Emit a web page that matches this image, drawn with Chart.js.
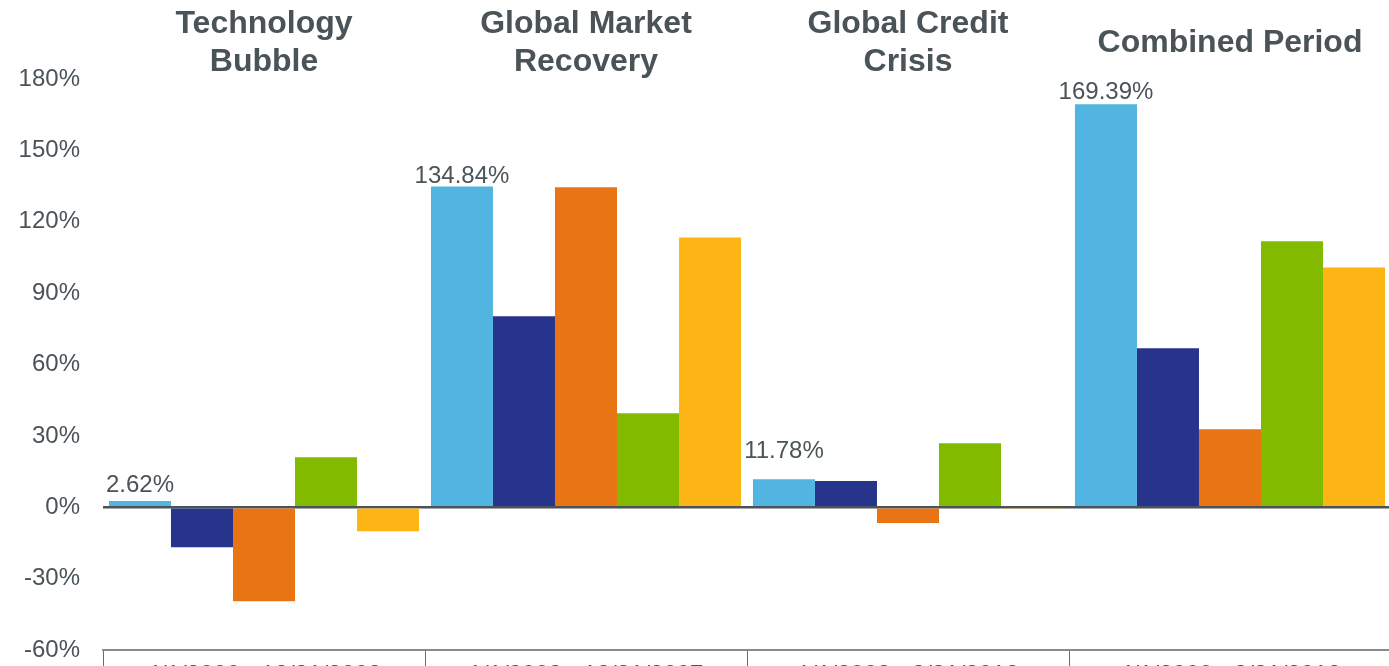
<!DOCTYPE html>
<html>
<head>
<meta charset="utf-8">
<script src="https://cdn.jsdelivr.net/npm/chart.js@4/dist/chart.umd.min.js"></script>
<style>
  html, body { margin: 0; padding: 0; background: #fff; overflow: hidden; }
  #wrap { position: absolute; left: 0; top: 0; width: 1391px; height: 700px; }
</style>
</head>
<body>
<div id="wrap"><canvas id="grafico"></canvas></div>
<script>
// data
const categorias = ["4/1/2000 - 12/31/2002", "1/1/2003 - 12/31/2007", "1/1/2008 - 3/31/2012", "4/1/2000 - 3/31/2012"];
const titulos = [["Technology", "Bubble"], ["Global Market", "Recovery"], ["Global Credit", "Crisis"], ["Combined Period"]];

const serie1 = [2.62, 134.84, 11.78, 169.39];
const serie2 = [-16.8, 80.3, 11.0, 66.8];
const serie3 = [-39.5, 134.5, -6.6, 32.8];
const serie4 = [21.0, 39.5, 26.9, 111.8];
const serie5 = [-10.1, 113.4, -0.4, 100.8];

const yMin = -60;
const yMax = 180;
const yPaso = 30;

// extra gap above the labelled bars (px)
const desfaseEtiqueta = [9, 3, 21, 5];

const colores = ["#52b4e0", "#27348b", "#e87413", "#82ba00", "#fdb515"];
const gris = "#4a5357";
const fuente = "'Liberation Sans', Arial, sans-serif";

// titles over each group
const pluginTitulos = {
  id: "titulos",
  afterDraw(chart) {
    const ctx = chart.ctx;
    const x = chart.scales.x;
    ctx.save();
    ctx.fillStyle = gris;
    ctx.font = "bold 32px " + fuente;
    ctx.textAlign = "center";
    ctx.textBaseline = "middle";
    titulos.forEach((lineas, i) => {
      const cx = x.getPixelForValue(i);
      const alto = 38;
      const y0 = 43 - (lineas.length - 1) * alto / 2;
      lineas.forEach((t, j) => ctx.fillText(t, cx, y0 + j * alto));
    });
    ctx.restore();
  }
};

// value labels on the first series
const pluginEtiquetas = {
  id: "etiquetas",
  afterDatasetsDraw(chart) {
    const ctx = chart.ctx;
    const meta = chart.getDatasetMeta(0);
    ctx.save();
    ctx.fillStyle = gris;
    ctx.font = "24px " + fuente;
    ctx.textAlign = "center";
    ctx.textBaseline = "alphabetic";
    meta.data.forEach((barra, i) => {
      const v = serie1[i];
      ctx.fillText(v.toFixed(2) + "%", barra.x, barra.y - desfaseEtiqueta[i]);
    });
    ctx.restore();
  }
};

const ctx = document.getElementById("grafico").getContext("2d");

new Chart(ctx, {
  type: "bar",
  data: {
    labels: categorias,
    datasets: [
      { label: "Serie 1", data: serie1, backgroundColor: colores[0] },
      { label: "Serie 2", data: serie2, backgroundColor: colores[1] },
      { label: "Serie 3", data: serie3, backgroundColor: colores[2] },
      { label: "Serie 4", data: serie4, backgroundColor: colores[3] },
      { label: "Serie 5", data: serie5, backgroundColor: colores[4] }
    ]
  },
  options: {
    responsive: true,
    maintainAspectRatio: false,
    animation: false,
    layout: { padding: { top: 79, left: 0, right: 0, bottom: 0 } },
    datasets: {
      bar: { categoryPercentage: 0.963, barPercentage: 1, borderWidth: 0 }
    },
    plugins: {
      legend: { display: false },
      tooltip: { enabled: false }
    },
    scales: {
      x: {
        afterFit: (s) => { s.height = 50; },
        border: { display: true, color: "#858b8e", width: 2 },
        grid: {
          offset: true,
          drawOnChartArea: false,
          drawTicks: true,
          tickLength: 40,
          color: "#666d70",
          lineWidth: 1
        },
        ticks: {
          padding: -29,
          color: gris,
          font: { family: fuente, size: 24 },
          maxRotation: 0
        }
      },
      y: {
        min: yMin,
        max: yMax,
        afterFit: (s) => { s.width = 103; },
        border: { display: false },
        grid: {
          drawTicks: false,
          color: (c) => c.tick && c.tick.value === 0 ? gris : "rgba(0,0,0,0)",
          lineWidth: (c) => c.tick && c.tick.value === 0 ? 2.5 : 0
        },
        ticks: {
          stepSize: yPaso,
          padding: 23,
          color: gris,
          font: { family: fuente, size: 24 },
          callback: (v) => v + "%"
        }
      }
    }
  },
  plugins: [pluginTitulos, pluginEtiquetas]
});
</script>
</body>
</html>
